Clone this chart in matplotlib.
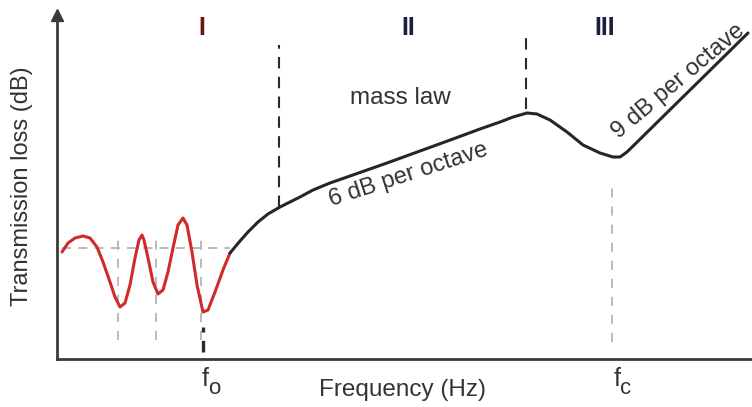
import matplotlib.pyplot as plt

plt.rcParams['font.family'] = ['Liberation Sans', 'DejaVu Sans']

# schematic units: frequency position and transmission loss above the x-axis
# region I: resonance-controlled part (red)
res_freq = [5, 11, 18, 26, 33, 40, 46, 53, 58, 63, 68, 73, 78, 82, 85, 87, 91, 96, 101, 106,
            111, 116, 121, 126, 130, 135, 140, 146, 151, 158, 166, 173]
res_tl = [107, 116, 121, 123, 121, 112, 97, 77, 62, 52, 56, 74, 101, 119, 124, 119, 101, 77, 65, 69,
          87, 111, 134, 141, 134, 107, 74, 47, 49, 67, 89, 106]

# regions II and III: mass law, coincidence dip, stiffness rise (black)
main_freq = [173, 183, 191, 201, 211, 223, 243, 256, 273, 293, 330, 363, 396, 423, 443, 456,
             470, 480, 493, 510, 526, 543, 556, 563, 570, 691]
main_tl = [106, 118, 127, 137, 145, 152, 162, 169, 176, 183, 196, 208, 220, 230, 237, 242,
           246, 245, 239, 227, 214, 206, 202, 202, 207, 326]

# guide lines
region_edges = [222, 469]          # dashed borders between regions I/II and II/III
edge_tops = [314, 321]
edge_bottoms = [152, 250]
res_guides = [61, 99, 144]           # resonance frequencies
f0 = 146
fc = 555
mean_tl = 111

region_labels = ['I', 'II', 'III']
region_label_x = [145, 351, 548]
region_colors = ['#6e1212', '#1d1d3f', '#1d1d3f']

fig = plt.figure(figsize=(7.52, 4.07), dpi=100)
ax = fig.add_axes([57 / 752, 48 / 407, 695 / 752, 344 / 407])
ax.set_xlim(0, 695)
ax.set_ylim(0, 344)

for s in ['top', 'right']:
    ax.spines[s].set_visible(False)
for s in ['left', 'bottom']:
    ax.spines[s].set_linewidth(2.0)
    ax.spines[s].set_color('#3a3a3a')
ax.set_xticks([])
ax.set_yticks([])
ax.patch.set_alpha(0)

# arrow head on the y axis
ax.plot(0, 1, marker='^', color='#3a3a3a', markersize=9, transform=ax.transAxes, clip_on=False)

grey = '#b4b4b4'
ax.plot([5, 173], [mean_tl, mean_tl], color=grey, lw=1.3, dashes=(5, 4))
for x in res_guides:
    ax.plot([x, x], [19, 127], color=grey, lw=1.3, dashes=(5, 5))
ax.plot([f0, f0], [7, 32], color='#2a2a2a', lw=2.4, dashes=(3.5, 2.5))
ax.plot([fc, fc], [17, 179], color=grey, lw=1.3, dashes=(5, 5))

for x, top, bot in zip(region_edges, edge_tops, edge_bottoms):
    ax.plot([x, x], [bot, top], color='#2a2a2a', lw=1.5, dashes=(5.5, 4))

ax.plot(res_freq, res_tl, color='#d02a2a', lw=2.2, solid_capstyle='round', solid_joinstyle='round')
ax.plot(main_freq, main_tl, color='#262626', lw=2.2, solid_capstyle='round', solid_joinstyle='round')

for lab, x, c in zip(region_labels, region_label_x, region_colors):
    ax.text(x, 331, lab, color=c, fontsize=18, fontweight='bold', ha='center', va='center')

txt = '#333333'
ax.text(343, 261, 'mass law', color=txt, fontsize=17.5, ha='center', va='center')
ax.text(351, 184, '6 dB per octave', color=txt, fontsize=17, ha='center', va='center',
        rotation=18, rotation_mode='anchor')
ax.text(621, 278, '9 dB per octave', color=txt, fontsize=17, ha='center', va='center',
        rotation=40, rotation_mode='anchor')

# f0 / fc labels with large subscripts
ax.text(f0 + 2, -20, 'f', color=txt, fontsize=18, ha='center', va='center', clip_on=False)
ax.text(f0 + 11, -29, 'o', color=txt, fontsize=16, ha='center', va='center', clip_on=False)
ax.text(fc + 5, -20, 'f', color=txt, fontsize=18, ha='center', va='center', clip_on=False)
ax.text(fc + 14, -29, 'c', color=txt, fontsize=16, ha='center', va='center', clip_on=False)

ax.set_xlabel('Frequency (Hz)', color=txt, fontsize=17.5)
ax.xaxis.set_label_coords(0.497, -0.058)
ax.set_ylabel('Transmission loss (dB)', color=txt, fontsize=17)
ax.yaxis.set_label_coords(-0.035, 0.503)

fig.savefig('out.png', dpi=100)
